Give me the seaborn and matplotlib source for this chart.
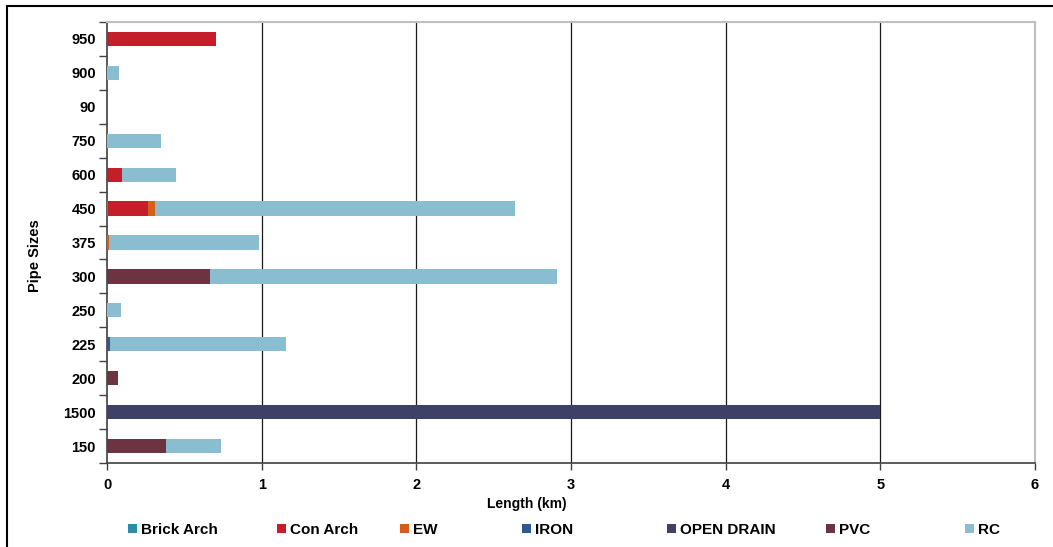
import matplotlib
matplotlib.use("Agg")
import matplotlib.pyplot as plt
from matplotlib.patches import Patch
from matplotlib.lines import Line2D
from matplotlib.ticker import FixedLocator
import numpy as np
import pandas as pd
import seaborn as sns

# Pipe size categories, top to bottom
sizes = ["950", "900", "90", "750", "600", "450", "375", "300", "250", "225", "200", "1500", "150"]

# Length (km) of each pipe material per size
brick_arch = [0, 0, 0, 0, 0, 0.006, 0, 0, 0, 0, 0, 0, 0]
con_arch = [0.707, 0, 0, 0, 0.10, 0.259, 0, 0, 0, 0, 0, 0, 0]
ew = [0, 0, 0, 0, 0, 0.043, 0.013, 0, 0, 0, 0, 0, 0]
iron = [0, 0, 0, 0, 0, 0, 0, 0, 0, 0.017, 0, 0, 0]
open_drain = [0, 0, 0, 0, 0, 0, 0, 0, 0, 0, 0, 5.0, 0]
pvc = [0, 0, 0, 0, 0, 0, 0, 0.664, 0, 0, 0.071, 0, 0.382]
rc = [0, 0.08, 0, 0.347, 0.344, 2.327, 0.97, 2.245, 0.09, 1.139, 0, 0, 0.355]

materials = ["Brick Arch", "Con Arch", "EW", "IRON", "OPEN DRAIN", "PVC", "RC"]
colors = ["#2B8DA8", "#C41E2A", "#D45F1C", "#2E5A8E", "#3E4068", "#6C3441", "#8ABDD0"]

df = pd.DataFrame({
    "size": sizes,
    "Brick Arch": brick_arch,
    "Con Arch": con_arch,
    "EW": ew,
    "IRON": iron,
    "OPEN DRAIN": open_drain,
    "PVC": pvc,
    "RC": rc,
})

sns.set_theme(style="white")
plt.rcParams["font.family"] = ["Liberation Sans", "DejaVu Sans"]
plt.rcParams["font.weight"] = "bold"
plt.rcParams["text.color"] = "black"
plt.rcParams["axes.labelcolor"] = "black"
plt.rcParams["xtick.labelcolor"] = "black"
plt.rcParams["ytick.labelcolor"] = "black"

W, H = 1053, 547
fig = plt.figure(figsize=(W / 100, H / 100), dpi=100)
ax = fig.add_axes([107 / W, 1 - 463 / H, (1035 - 107) / W, (463 - 22) / H])

# Stacked bars: draw cumulative totals from the outermost segment inwards
cum = df[materials].cumsum(axis=1)
for mat, col in reversed(list(zip(materials, colors))):
    sns.barplot(x=cum[mat], y=df["size"], order=sizes, orient="h", color=col,
                saturation=1, width=0.42, linewidth=0, ax=ax, zorder=3)

ax.set_xlim(0, 6)
ax.set_ylim(12.5, -0.5)
ax.set_xticks(range(0, 7))
ax.set_xticklabels([str(i) for i in range(0, 7)], fontsize=10.5, fontweight="bold")
ax.set_yticks(range(len(sizes)))
ax.set_yticklabels(sizes, fontsize=10.5, fontweight="bold")
ax.yaxis.set_minor_locator(FixedLocator(np.arange(-0.5, 13, 1)))
ax.tick_params(axis="y", which="major", length=0, pad=8, labelcolor="black")
ax.tick_params(axis="y", which="minor", length=6, width=1, color="#404040", left=True)
ax.tick_params(axis="x", which="major", length=5, width=1, color="#404040", bottom=True,
               pad=6, labelcolor="black")

# Vertical gridlines
for v in range(1, 6):
    ax.axvline(v, color="#1a1a1a", lw=0.9, zorder=1)

for side in ["left", "bottom"]:
    ax.spines[side].set_color("#404040")
    ax.spines[side].set_linewidth(1.2)
for side in ["top", "right"]:
    ax.spines[side].set_color("#BFBFBF")
    ax.spines[side].set_linewidth(1.5)
    ax.spines[side].set_visible(True)

ax.set_xlabel("Length (km)", fontsize=10, fontweight="bold", va="center", color="black")
ax.xaxis.set_label_coords((527 - 107) / 928, (463 - 504) / 441)
ax.set_ylabel("Pipe Sizes", fontsize=10.5, fontweight="bold", va="center", color="black")
ax.yaxis.set_label_coords((35 - 107) / 928, (463 - 256) / 441)

# Legend entries laid out along the bottom
legend_x = [128, 277, 400, 522, 667, 826, 965]
for name, col, lx in zip(materials, colors, legend_x):
    leg = fig.legend([Patch(facecolor=col, edgecolor="none")], [name], loc="center left",
                     bbox_to_anchor=(lx / W, 1 - 530 / H), frameon=False,
                     borderpad=0, borderaxespad=0, handlelength=0.6, handleheight=0.6,
                     handletextpad=0.25, labelcolor="black",
                     prop={"weight": "bold", "size": 11})

# Outer frame of the chart area
fig.add_artist(Line2D([7 / W, 1], [1 - 6 / H, 1 - 6 / H], color="black", lw=1.5,
                      transform=fig.transFigure))
fig.add_artist(Line2D([7 / W, 7 / W], [0, 1 - 6 / H], color="black", lw=1.5,
                      transform=fig.transFigure))

fig.savefig("out.png", dpi=100)
